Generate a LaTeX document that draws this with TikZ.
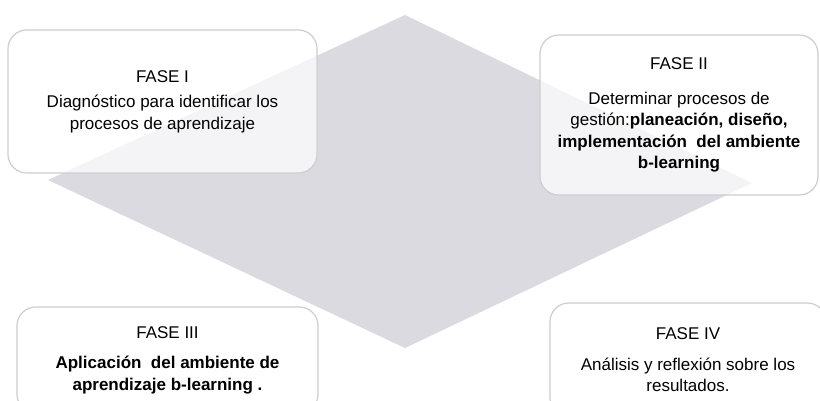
\documentclass[tikz,border=0pt]{standalone}
\usepackage{fontspec}
\setmainfont{Liberation Sans}
\usepackage{tikz}
\usetikzlibrary{%
  calc,%
  positioning%
}
\definecolor{rombogris}{RGB}{218,218,224}
\definecolor{bordegris}{RGB}{205,205,212}
\tikzset{rombo/.style = {fill=rombogris, draw=none},
	fase/.style = {draw=bordegris, line width=0.9pt, fill=white, fill opacity=0.72,
		text opacity=1, rounded corners=14pt, inner sep=0pt, align=center,
		font=\fontsize{12.75}{16.1}\selectfont}}

\begin{document}
\begin{tikzpicture}[x=0.75pt,y=-0.75pt]
          \useasboundingbox (0,0) rectangle (820,400);
          \clip (0,0) rectangle (820,400);
          \draw[rombo] (405,15) -- (752,183) -- (405,348) -- (48,180) -- cycle;
          \node[fase,minimum width=231.75pt,minimum height=107.25pt] (fase1) at (162.5,101.5)
          {FASE I\\[3pt] Diagnóstico para identificar los\\ procesos de aprendizaje};
          \node[fase,minimum width=208.5pt,minimum height=120pt] (fase2) at (679,115)
          {FASE II\\[10pt] Determinar procesos de\\ gestión:\textbf{planeación, diseño,}\\
          \textbf{implementación\ \ del ambiente}\\ \textbf{b-learning}};
          \node[fase,minimum width=225.75pt,minimum height=79.5pt] (fase3) at (167.5,360)
          {FASE III\\[7pt] \textbf{Aplicación\ \ del ambiente de}\\ \textbf{aprendizaje b-learning .}};
          \node[fase,minimum width=207pt,minimum height=85.5pt] (fase4) at (688,360)
          {FASE IV\\[7pt] Análisis y reflexión sobre los\\ resultados.};
        \end{tikzpicture}
\end{document}
